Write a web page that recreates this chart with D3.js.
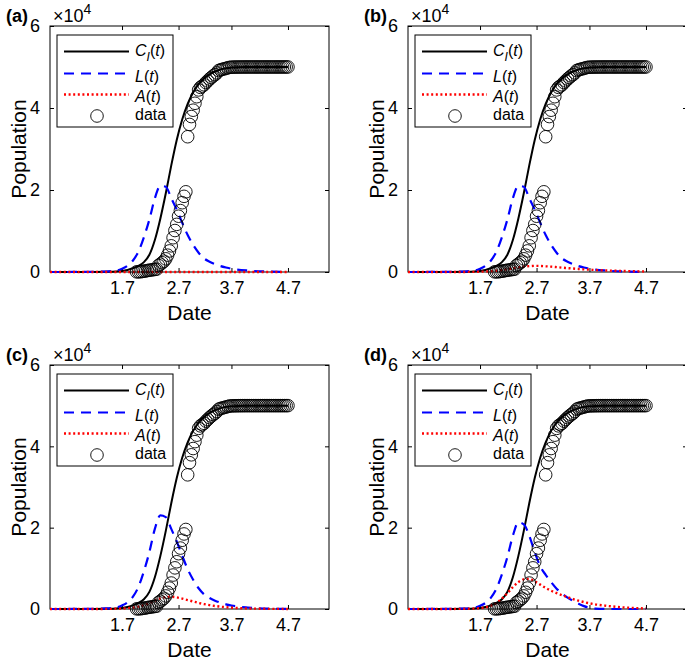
<!DOCTYPE html>
<html><head><meta charset="utf-8">
<script src="https://cdn.jsdelivr.net/npm/d3@7"></script>
<style>body{margin:0;background:#fff}svg{display:block}text{font-family:"Liberation Sans",Arial,Helvetica,sans-serif}</style>
</head><body><svg id="chart" width="685" height="664"></svg>
<script>
// ---- data (days counted from 2019-12-01) ----
const xTickLabels = ["1.7", "2.7", "3.7", "4.7"];
const xTickDays = [37, 68, 97, 128];
const yTickValues = [0, 20000, 40000, 60000];
const yTickLabels = ["0", "2", "4", "6"];

const modelDays = [-2.5, 10, 20, 28, 34, 37, 40, 43, 46, 49, 52, 55, 58, 61, 64, 67, 70, 73, 76, 79, 82, 85, 88, 91, 94, 97, 100, 106, 112, 118, 124, 128];

const cA = [0, 5, 20, 60, 150, 250, 500, 900, 1500, 2400, 4200, 7800, 13000, 19200, 26000, 32200, 37200, 41000, 43800, 45800, 47200, 48200, 48900, 49400, 49700, 49850, 49930, 49980, 50000, 50000, 50000, 50000];
const lA = [0, 10, 40, 120, 350, 800, 1500, 2800, 5000, 8500, 12800, 18000, 21000, 20800, 18000, 15200, 12000, 9000, 6600, 4700, 3300, 2500, 1900, 1450, 1100, 800, 600, 350, 180, 90, 40, 20];
const aA = [0, 0, 0, 0, 0, 0, 0, 0, 0, 0, 0, 0, 0, 0, 0, 0, 0, 0, 0, 0, 0, 0, 0, 0, 0, 0, 0, 0, 0, 0, 0, 0];

const cB = [0, 5, 20, 60, 150, 250, 500, 900, 1500, 2400, 4200, 7800, 13000, 19200, 26000, 32200, 37200, 41000, 43800, 45800, 47200, 48200, 48900, 49400, 49700, 49850, 49930, 49980, 50000, 50000, 50000, 50000];
const lB = [0, 10, 40, 120, 350, 800, 1500, 2800, 5000, 8500, 12800, 18000, 21000, 20800, 18000, 15200, 12000, 9000, 6600, 4700, 3300, 2500, 1900, 1450, 1100, 800, 600, 350, 180, 90, 40, 20];
const aB = [0, 0, 5, 15, 40, 70, 120, 200, 320, 480, 680, 900, 1120, 1300, 1430, 1500, 1480, 1400, 1300, 1180, 1060, 950, 840, 740, 650, 570, 500, 380, 290, 220, 160, 130];

const cC = [0, 5, 20, 60, 150, 250, 500, 900, 1500, 2400, 4200, 7800, 13000, 19200, 26000, 32200, 37200, 41000, 43800, 45800, 47200, 48200, 48900, 49400, 49700, 49850, 49930, 49980, 50000, 50000, 50000, 50000];
const lC = [0, 10, 40, 130, 380, 870, 1650, 3050, 5450, 9300, 14000, 19700, 23000, 22600, 19700, 16600, 13100, 9800, 7200, 5100, 3600, 2700, 2050, 1550, 1150, 850, 630, 370, 190, 95, 40, 20];
const aC = [0, 0, 5, 20, 60, 110, 200, 350, 600, 950, 1450, 2050, 2600, 2950, 3000, 2850, 2550, 2200, 1850, 1500, 1200, 950, 740, 570, 430, 320, 240, 130, 70, 35, 20, 10];

const cD = [0, 5, 20, 60, 150, 250, 500, 900, 1500, 2400, 4200, 7800, 13000, 19200, 26000, 32200, 37200, 41000, 43800, 45800, 47200, 48200, 48900, 49400, 49700, 49850, 49930, 49980, 50000, 50000, 50000, 50000];
const lD = [0, 10, 40, 120, 350, 800, 1500, 2800, 5000, 8500, 12800, 18000, 21300, 20800, 18000, 14000, 10500, 8400, 6600, 5000, 3800, 2800, 2000, 1300, 700, 300, 100, 10, 0, 0, 0, 0];
const aD = [0, 0, 10, 40, 120, 220, 400, 800, 1500, 2600, 3900, 5400, 6600, 7300, 7400, 6800, 6000, 5200, 4500, 3900, 3400, 2900, 2450, 2050, 1700, 1400, 1150, 800, 520, 330, 200, 140];

// observed cumulative cases, one per day from Jan 15 (day 45) to Apr 7 (day 128)
const dataFirstDay = 45;
const dataValues = [41, 45, 62, 121, 198, 258, 363, 425, 495, 572, 618, 698, 1590, 1905, 2261, 2639, 3215,
  4109, 5142, 6384, 8351, 10117, 11618, 13603, 14982, 16902, 18454, 19558, 32994, 35991, 37914, 39462, 41152, 42752, 44412, 45027, 45346, 45660, 46201, 46607, 47071, 47441, 47824, 48137, 48557, 49122,
  49315, 49426, 49540, 49671, 49797, 49912, 49948, 49965, 49978, 49986, 49991, 49995, 49999, 50003, 50004, 50005, 50005, 50005, 50005, 50005, 50005, 50005, 50006, 50006, 50006, 50006, 50006, 50006, 50006, 50006, 50006,
  50007, 50007, 50007, 50008, 50008, 50008, 50008];
const dataDays = d3.range(dataFirstDay, dataFirstDay + dataValues.length);

const panelLabels = ["(a)", "(b)", "(c)", "(d)"];
const panelC = [cA, cB, cC, cD];
const panelL = [lA, lB, lC, lD];
const panelA = [aA, aB, aC, aD];

// ---- layout ----
const layout = [
  {left: 50, top: 26, bottom: 272},
  {left: 408, top: 26, bottom: 272},
  {left: 50, top: 365, bottom: 609},
  {left: 408, top: 365, bottom: 609}
];
const plotW = 279;
const svg = d3.select("#chart");

panelLabels.forEach((lab, i) => {
  const L = layout[i];
  const x = d3.scaleLinear().domain([-2.5, 150.5]).range([L.left, L.left + plotW]);
  const y = d3.scaleLinear().domain([0, 60000]).range([L.bottom, L.top]);
  const g = svg.append("g");

  // box
  g.append("rect").attr("x", L.left).attr("y", L.top).attr("width", plotW).attr("height", L.bottom - L.top)
    .attr("fill", "none").attr("stroke", "#000").attr("stroke-width", 1);

  // axes (inward ticks, mirrored)
  const tl = 4;
  g.append("g").attr("transform", `translate(0,${L.bottom})`)
    .call(d3.axisBottom(x).tickValues(xTickDays).tickFormat((d, j) => xTickLabels[j]).tickSize(-tl).tickPadding(9))
    .call(s => { s.select(".domain").remove(); s.selectAll("text").attr("font-size", 18).attr("fill", "#000").attr("font-family", "Liberation Sans, Arial, sans-serif"); s.selectAll("line").attr("stroke", "#000"); });
  g.append("g").attr("transform", `translate(0,${L.top})`)
    .call(d3.axisTop(x).tickValues(xTickDays).tickFormat("").tickSize(-tl))
    .call(s => { s.select(".domain").remove(); s.selectAll("line").attr("stroke", "#000"); });
  g.append("g").attr("transform", `translate(${L.left},0)`)
    .call(d3.axisLeft(y).tickValues(yTickValues).tickFormat((d, j) => yTickLabels[j]).tickSize(-tl).tickPadding(10))
    .call(s => { s.select(".domain").remove(); s.selectAll("text").attr("font-size", 18).attr("fill", "#000").attr("font-family", "Liberation Sans, Arial, sans-serif"); s.selectAll("line").attr("stroke", "#000"); });
  g.append("g").attr("transform", `translate(${L.left + plotW},0)`)
    .call(d3.axisRight(y).tickValues(yTickValues).tickFormat("").tickSize(-tl))
    .call(s => { s.select(".domain").remove(); s.selectAll("line").attr("stroke", "#000"); });

  // exponent label
  const ex = g.append("text").attr("x", L.left + 3).attr("y", L.top - 4).attr("font-size", 18).attr("fill", "#000");
  ex.append("tspan").text("\u00d710");
  ex.append("tspan").attr("font-size", 14).attr("dy", -8).text("4");

  // panel label
  g.append("text").attr("x", L.left - 44).attr("y", L.top - 4).attr("font-size", 18).attr("font-weight", "bold").text(lab);

  // axis titles
  g.append("text").attr("x", L.left + plotW / 2).attr("y", L.bottom + 48).attr("text-anchor", "middle").attr("font-size", 21).text("Date");
  g.append("text").attr("transform", `translate(${L.left - 24},${(L.top + L.bottom) / 2}) rotate(-90)`).attr("text-anchor", "middle").attr("font-size", 21).text("Population");

  // curves
  const line = vals => d3.line().x((d, j) => x(modelDays[j])).y(d => y(d)).curve(d3.curveMonotoneX)(vals);
  g.append("path").attr("d", line(panelC[i])).attr("fill", "none").attr("stroke", "#000").attr("stroke-width", 2);
  g.append("path").attr("d", line(panelL[i])).attr("fill", "none").attr("stroke", "#0000ff").attr("stroke-width", 2.2).attr("stroke-dasharray", "10,7");
  g.append("path").attr("d", line(panelA[i])).attr("fill", "none").attr("stroke", "#ff0000").attr("stroke-width", 2.4).attr("stroke-dasharray", "2,2.6");

  // data circles
  g.append("g").selectAll("circle").data(dataValues).join("circle")
    .attr("cx", (d, j) => x(dataDays[j])).attr("cy", d => y(d)).attr("r", 6.3)
    .attr("fill", "none").attr("stroke", "#000").attr("stroke-width", 0.9);

  // legend
  const lx = L.left + 7, ly = L.top + 9;
  const lg = g.append("g");
  lg.append("rect").attr("x", lx).attr("y", ly).attr("width", 116).attr("height", 92).attr("fill", "#fff").attr("stroke", "#000").attr("stroke-width", 1);
  const rowsY = [16.5, 38.5, 59.5, 81];
  const baseY = [20.5, 47, 66.5, 85];
  lg.append("line").attr("x1", lx + 7).attr("x2", lx + 72).attr("y1", ly + rowsY[0]).attr("y2", ly + rowsY[0]).attr("stroke", "#000").attr("stroke-width", 2);
  lg.append("line").attr("x1", lx + 7).attr("x2", lx + 72).attr("y1", ly + rowsY[1]).attr("y2", ly + rowsY[1]).attr("stroke", "#0000ff").attr("stroke-width", 2.2).attr("stroke-dasharray", "10,7");
  lg.append("line").attr("x1", lx + 7).attr("x2", lx + 72).attr("y1", ly + rowsY[2]).attr("y2", ly + rowsY[2]).attr("stroke", "#ff0000").attr("stroke-width", 2.4).attr("stroke-dasharray", "2,2.6");
  lg.append("circle").attr("cx", lx + 40).attr("cy", ly + rowsY[3]).attr("r", 6.3).attr("fill", "none").attr("stroke", "#000").attr("stroke-width", 0.9);
  const tx = lx + 78;
  const t0 = lg.append("text").attr("x", tx).attr("y", ly + baseY[0]).attr("font-size", 16);
  t0.append("tspan").attr("font-style", "italic").text("C");
  t0.append("tspan").attr("font-style", "italic").attr("font-size", 12).attr("dy", 5).text("I");
  t0.append("tspan").attr("dy", -5).text("(");
  t0.append("tspan").attr("font-style", "italic").text("t");
  t0.append("tspan").text(")");
  const t1 = lg.append("text").attr("x", tx).attr("y", ly + baseY[1]).attr("font-size", 16);
  t1.append("tspan").attr("font-style", "italic").text("L");
  t1.append("tspan").text("(");
  t1.append("tspan").attr("font-style", "italic").text("t");
  t1.append("tspan").text(")");
  const t2 = lg.append("text").attr("x", tx).attr("y", ly + baseY[2]).attr("font-size", 16);
  t2.append("tspan").attr("font-style", "italic").text("A");
  t2.append("tspan").text("(");
  t2.append("tspan").attr("font-style", "italic").text("t");
  t2.append("tspan").text(")");
  lg.append("text").attr("x", tx).attr("y", ly + baseY[3]).attr("font-size", 16).text("data");
});
</script></body></html>
